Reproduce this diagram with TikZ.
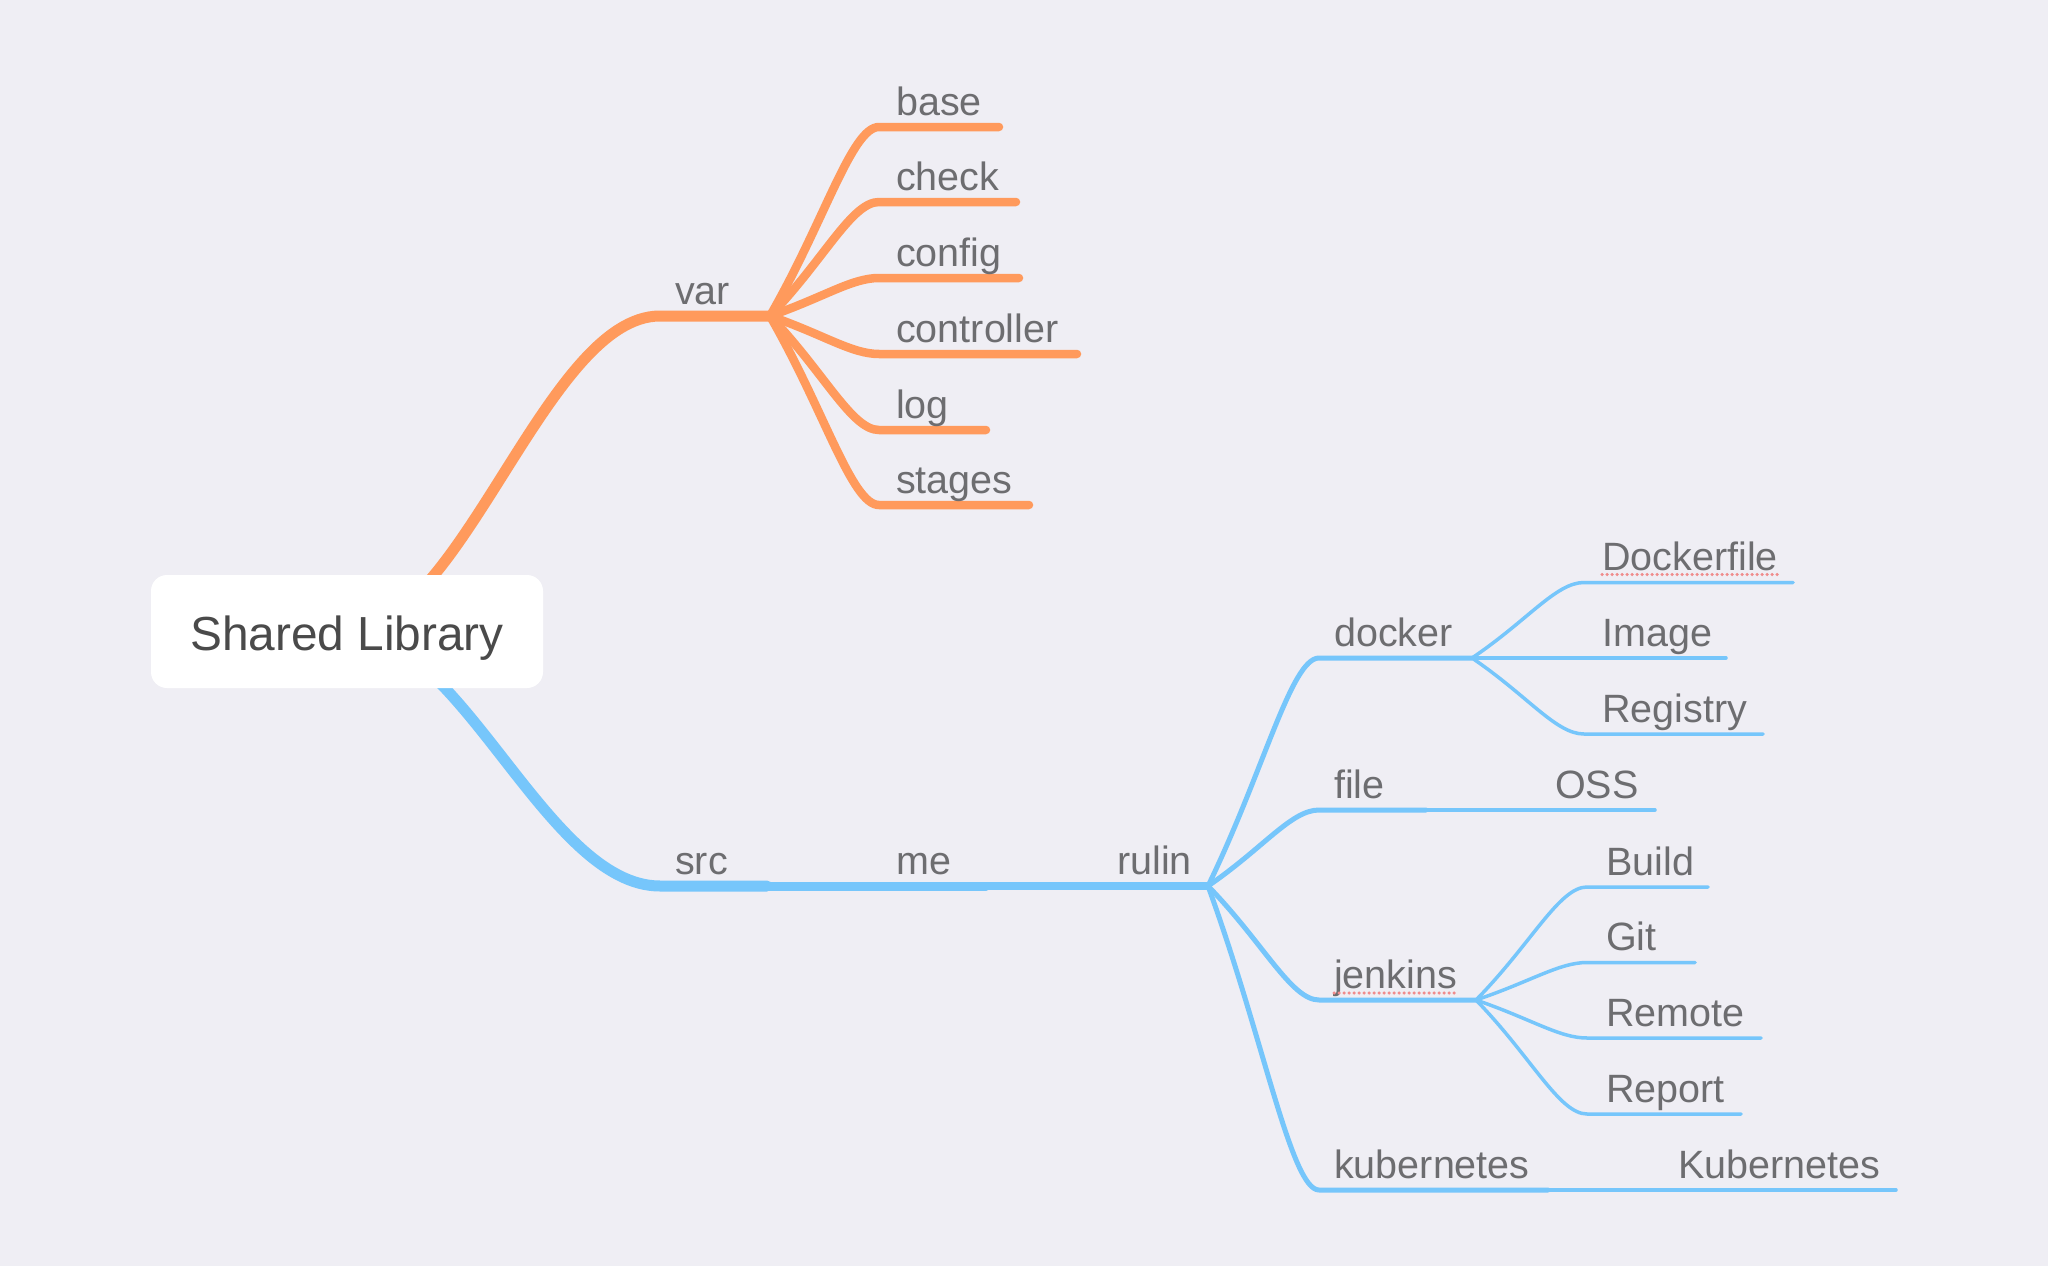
\documentclass[tikz,border=0pt]{standalone}
\usepackage{fontspec}
\setmainfont{Liberation Sans}
\usetikzlibrary{calc,backgrounds}
\definecolor{bgc}{HTML}{EFEEF4}
\definecolor{orng}{HTML}{FF9A5C}
\definecolor{blu}{HTML}{76C6FB}
\definecolor{txt}{HTML}{6D6D70}
\definecolor{roottxt}{HTML}{4A4A4A}
\definecolor{spell}{HTML}{F08C8C}
\begin{document}
\begin{tikzpicture}[x=1pt,y=-1pt,
 lbl/.style={inner sep=0pt, anchor=base west, text=txt, font=\fontsize{39.5}{42}\selectfont},
 rootbox/.style={fill=white, rounded corners=16pt, minimum width=392pt, minimum height=113pt, inner sep=0pt, text=roottxt, font=\fontsize{47.8}{50}\selectfont, text height=37pt, text depth=0pt},
 ob/.style={draw=orng, line width=#1, line cap=round, line join=round},
 bb/.style={draw=blu, line width=#1, line cap=round, line join=round},
 sto/.style={to path={.. controls ($(\tikztostart)!.365!(\tikztostart-|\tikztotarget)$) and ($(\tikztotarget)!.365!(\tikztotarget-|\tikztostart)$) .. (\tikztotarget)}},
 fanto/.style={to path={.. controls ($(\tikztostart)!.5!(\tikztotarget)$) and ($(\tikztostart|-\tikztotarget)!.75!(\tikztotarget)$) .. (\tikztotarget)}},
 spellmark/.style={draw=spell, line width=3.5pt, line cap=round, dash pattern=on 0pt off 5pt}
]
\useasboundingbox (0,0) rectangle (2048,1266);
\begin{scope}[on background layer]
\fill[bgc] (0,0) rectangle (2048,1266);
\end{scope}

% root
\node[rootbox] (root) at (347,631.5) {Shared Library};

% ---------- var subtree ----------
\coordinate (varS) at (660,316);
\coordinate (varJ) at (770,316);
\node[lbl] (var) at (675,304) {var};
\foreach \n/\y/\e in {base/127/999, check/202/1016, config/278/1019, controller/354/1077, log/430/986, stages/505/1029}{
  \coordinate (\n S) at (879,\y);
  \coordinate (\n E) at (\e,\y);
  \node[lbl] (\n) at (896,\y-12) {\n};
}

% ---------- src subtree ----------
\coordinate (srcS) at (660,886);
\coordinate (srcE) at (767,886);
\coordinate (meE) at (986,886);
\coordinate (rulJ) at (1208,886);
\node[lbl] (src) at (675,874) {src};
\node[lbl] (me) at (896,874) {me};
\node[lbl] (rulin) at (1117,874) {rulin};

\coordinate (dockS) at (1319,658);   \coordinate (dockE) at (1472,658);
\coordinate (fileS) at (1319,810);   \coordinate (fileE) at (1426,810);
\coordinate (jenkS) at (1319,1000);  \coordinate (jenkE) at (1476,1000);
\coordinate (kubS) at (1319,1190);   \coordinate (kubE) at (1548,1190);
\node[lbl] (docker) at (1334,646) {docker};
\node[lbl] (file) at (1334,798) {file};
\node[lbl] (jenkins) at (1334,988) {jenkins};
\node[lbl] (kubernetes) at (1334,1178) {kubernetes};

\coordinate (dfS) at (1584,582.5);  \coordinate (dfE) at (1793,582.5);
\coordinate (imgE) at (1726,658);
\coordinate (regS) at (1584,734);   \coordinate (regE) at (1763,734);
\node[lbl] (Dockerfile) at (1602,570.5) {Dockerfile};
\node[lbl] (Image) at (1602,646) {Image};
\node[lbl] (Registry) at (1602,722) {Registry};

\coordinate (ossE) at (1655,810);
\node[lbl] (OSS) at (1555,798) {OSS};

\coordinate (bldS) at (1587,887);   \coordinate (bldE) at (1708,887);
\coordinate (gitS) at (1587,962.5); \coordinate (gitE) at (1695,962.5);
\coordinate (remS) at (1587,1038);  \coordinate (remE) at (1761,1038);
\coordinate (repS) at (1587,1114);  \coordinate (repE) at (1741,1114);
\node[lbl] (Build) at (1606,875) {Build};
\node[lbl] (Git) at (1606,950.5) {Git};
\node[lbl] (Remote) at (1606,1026) {Remote};
\node[lbl] (Report) at (1606,1102) {Report};

\coordinate (k8E) at (1896,1190);
\node[lbl] (K8s) at (1678,1178) {Kubernetes};

% spell-check marks
\draw[spellmark] ([yshift=-4pt]Dockerfile.base west) -- ([yshift=-4pt]Dockerfile.base east);
\draw[spellmark] ([yshift=-5pt]jenkins.base west) -- ([yshift=-5pt]jenkins.base east);

% ---------- connectors (behind nodes) ----------
\begin{scope}[on background layer]
\draw[ob=11] (root.center) to[sto] (varS) -- (varJ);
\foreach \n in {base, check, config, controller, log, stages}{
  \draw[ob=8.5] (varJ) to[fanto] (\n S) -- (\n E);
}
\draw[bb=11] (root.center) to[sto] (srcS) -- (srcE);
\draw[bb=9] (srcE) -- (meE);
\draw[bb=7.5] (meE) -- (rulJ);
\draw[bb=5] (rulJ) to[fanto] (dockS) -- (dockE);
\draw[bb=5] (rulJ) to[fanto] (fileS) -- (fileE);
\draw[bb=5] (rulJ) to[fanto] (jenkS) -- (jenkE);
\draw[bb=5] (rulJ) to[fanto] (kubS) -- (kubE);
\draw[bb=3.5] (dockE) to[fanto] (dfS) -- (dfE);
\draw[bb=3.5] (dockE) -- (imgE);
\draw[bb=3.5] (dockE) to[fanto] (regS) -- (regE);
\draw[bb=3.5] (fileE) -- (ossE);
\draw[bb=3.5] (jenkE) to[fanto] (bldS) -- (bldE);
\draw[bb=3.5] (jenkE) to[fanto] (gitS) -- (gitE);
\draw[bb=3.5] (jenkE) to[fanto] (remS) -- (remE);
\draw[bb=3.5] (jenkE) to[fanto] (repS) -- (repE);
\draw[bb=3.5] (kubE) -- (k8E);
\end{scope}
\end{tikzpicture}
\end{document}
